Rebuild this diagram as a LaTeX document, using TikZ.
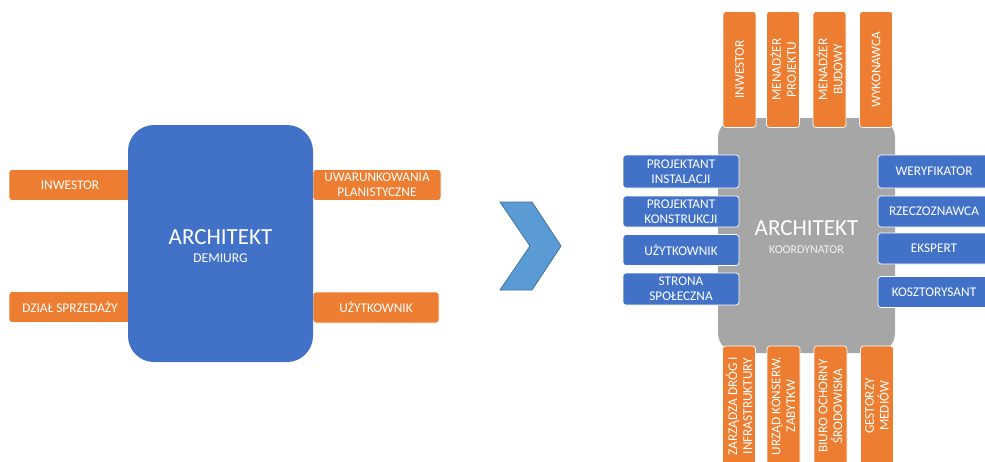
\documentclass[tikz,border=0pt]{standalone}
\usepackage{fontspec}
\setmainfont{Carlito}
\usetikzlibrary{positioning}
\definecolor{tangerine}{RGB}{237,125,49}
\definecolor{royal}{RGB}{66,114,200}
\definecolor{slate}{RGB}{166,166,166}
\definecolor{chev}{RGB}{91,155,213}
\definecolor{chevline}{RGB}{65,113,156}
\tikzset{
  every picture/.style={x=1pt, y=-1pt, line width=0.5pt},
  tag/.style={rounded corners=3pt, draw=white, line width=0.7pt, text=white, align=center, inner sep=1pt, font=\fontsize{13.3}{14.8}\selectfont},
  hbox/.style={tag, fill=tangerine, minimum width=#1, minimum height=31pt},
  vbox/.style={tag, fill=tangerine, rotate=90, minimum width=116pt, minimum height=33pt},
  side/.style={tag, fill=royal, minimum width=#1, minimum height=31pt},
  big/.style={text=white, font=\fontsize{23}{25}\selectfont, inner sep=0pt},
  small/.style={text=white, font=\fontsize{13.5}{15}\selectfont, inner sep=0pt},
}

\begin{document}
\begin{tikzpicture}
  \useasboundingbox (0,0) rectangle (985,461);
  \clip (0,0) rectangle (985,461);

  % demiurg
  \node[hbox=122pt] (inv) at (70,185) {INWESTOR};
  \node[hbox=122pt] (sales) at (70,307) {DZIAŁ SPRZEDAŻY};
  \node[hbox=128pt] (plan) at (377,185) {UWARUNKOWANIA\\PLANISTYCZNE};
  \node[hbox=126pt] (user) at (376,307.5) {UŻYTKOWNIK};
  \fill[royal, rounded corners=26pt] (128,125) rectangle (313,362);
  \node[big] (arch) at (220.5,237) {ARCHITEKT};
  \node[small] (demi) at (220.5,258) {DEMIURG};

  % chevron
  \draw[chevline, fill=chev, line width=0.8pt] (500,202) -- (532,202) -- (561,246) -- (532,290) -- (500,290) -- (530,246) -- cycle;

  % koordynator
  \fill[slate, rounded corners=20pt] (718,118) rectangle (895,353);
  \node[big] (arch2) at (806.5,228) {ARCHITEKT};
  \node[small, text=white!85!slate, font=\fontsize{12}{13}\selectfont] (coord) at (806.5,250) {KOORDYNATOR};

  \node[vbox] (t1) at (739.5,69.5) {INWESTOR};
  \node[vbox] (t2) at (783,69.5) {MENADŻER\\PROJEKTU};
  \node[vbox] (t3) at (829.5,69.5) {MENADŻER\\BUDOWY};
  \node[vbox] (t4) at (876,69.5) {WYKONAWCA};

  \node[vbox, minimum width=120pt] (b1) at (739,406) {ZARZĄDZA DRÓG I\\INFRASTRUKTURY};
  \node[vbox, minimum width=120pt] (b2) at (783.5,406) {URZĄD KONSERW.\\ZABYTKW};
  \node[vbox, minimum width=120pt] (b3) at (830.5,406) {BIURO OCHORNY\\ŚRODOWISKA};
  \node[vbox, minimum width=120pt] (b4) at (877,406) {GESTORZY\\MEDIÓW};

  \node[side=116pt, minimum height=33pt] (l1) at (681,171.5) {PROJEKTANT\\INSTALACJI};
  \node[side=116pt] (l2) at (681,211.5) {PROJEKTANT\\KONSTRUKCJI};
  \node[side=116pt] (l3) at (681,250) {UŻYTKOWNIK};
  \node[side=116pt, minimum height=32pt] (l4) at (681,289) {STRONA\\SPOŁECZNA};

  \node[side=112pt, minimum height=33pt] (r1) at (934,171.5) {WERYFIKATOR};
  \node[side=112pt] (r2) at (934,211.5) {RZECZOZNAWCA};
  \node[side=112pt] (r3) at (934,248.5) {EKSPERT};
  \node[side=112pt] (r4) at (934,292) {KOSZTORYSANT};
\end{tikzpicture}
\end{document}
